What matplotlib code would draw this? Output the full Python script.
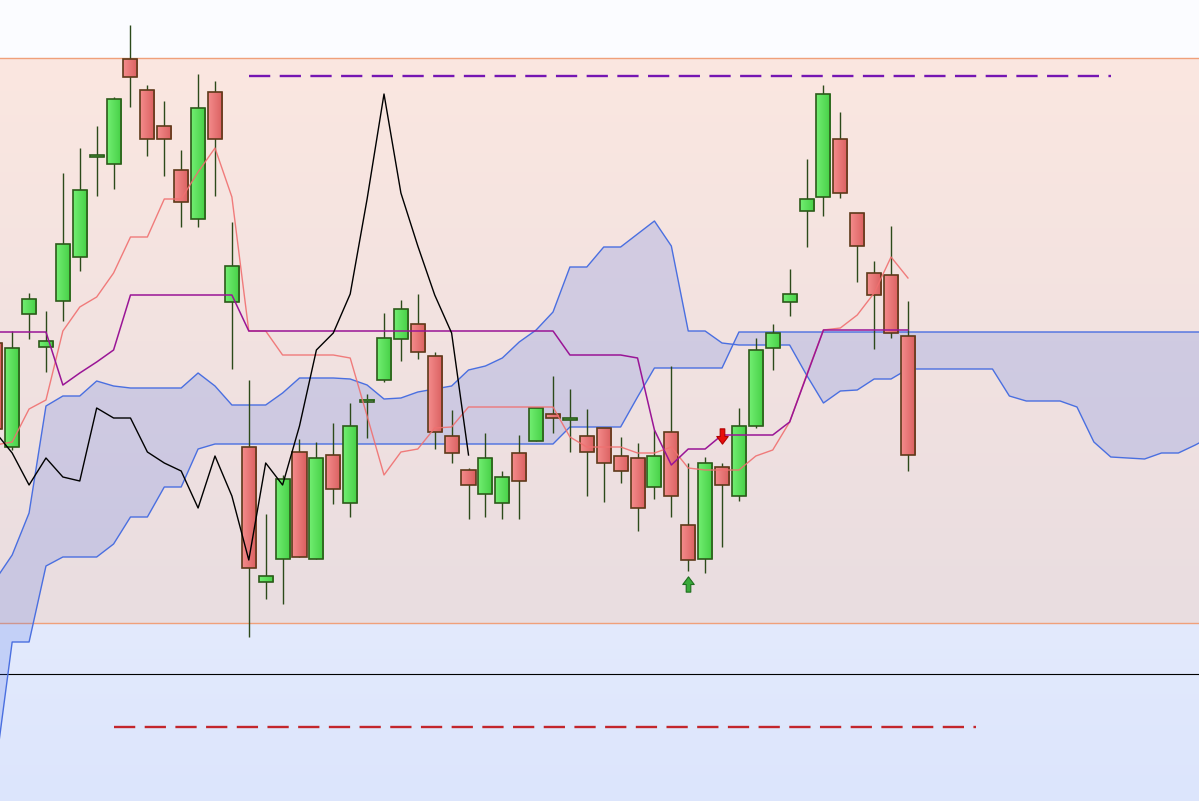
import numpy as np
import matplotlib.pyplot as plt
from matplotlib.patches import Rectangle
from matplotlib.path import Path
from matplotlib.colors import LinearSegmentedColormap

# candles (price units)
opens = [458, 354, 487, 454, 500, 544, 644, 637, 742, 711, 675, 631, 582, 709, 499,
         354, 219, 242, 349, 242, 346, 298, 400, 421, 462, 477, 445, 365, 331, 307,
         298, 348, 360, 387, 381, 365, 373, 345, 343, 314, 369, 276, 242, 334, 305,
         375, 453, 499, 590, 604, 662, 588, 528, 526, 465]
highs = [466, 470, 508, 490, 628, 653, 675, 704, 776, 716, 700, 651, 727, 720, 579,
         421, 287, 326, 362, 359, 378, 398, 407, 488, 501, 507, 449, 391, 333, 368,
         330, 366, 393, 425, 412, 392, 373, 364, 358, 371, 435, 338, 344, 338, 393,
         463, 477, 532, 642, 716, 689, 588, 540, 575, 500]
lows = [361, 351, 462, 429, 480, 530, 605, 612, 694, 645, 625, 574, 574, 605, 432,
        164, 202, 197, 244, 242, 297, 284, 363, 419, 440, 442, 352, 338, 282, 284,
        282, 282, 360, 368, 349, 305, 299, 318, 270, 302, 284, 230, 228, 254, 300,
        373, 431, 485, 554, 585, 603, 519, 452, 463, 330]
closes = [372, 453, 502, 460, 557, 611, 646, 702, 724, 662, 662, 599, 693, 662, 535,
          233, 225, 322, 244, 343, 312, 375, 401, 463, 492, 449, 369, 348, 316, 343,
          324, 320, 393, 383, 383, 349, 338, 330, 293, 345, 305, 241, 338, 316, 375,
          451, 468, 507, 602, 707, 608, 555, 506, 468, 346]

# ichimoku lines
tenkan = [356, 359, 392, 401, 470, 494, 504, 528, 564, 564, 602, 602, 629, 653, 604,
          470, 470, 446, 446, 446, 446, 443, 385, 326, 349, 352, 373, 374, 394, 394,
          394, 394, 394, 394, 364, 354, 354, 354, 348, 348, 354, 333, 331, 331, 331,
          345, 351, 379, 426, 471, 473, 486, 508, 544, 523]
kijun = [469, 469, 469, 469, 416, 428, 439, 451, 506, 506, 506, 506, 506, 506, 506,
         470, 470, 470, 470, 470, 470, 470, 470, 470, 470, 470, 470, 470, 470, 470,
         470, 470, 470, 470, 446, 446, 446, 446, 443, 371, 336, 352, 352, 366, 366,
         366, 366, 379, 425, 471, 471, 471, 471, 471, 471]
span_a = [221, 246, 288, 395, 405, 405, 420, 415, 413, 413, 413, 413, 428, 415, 396,
          396, 396, 408, 423, 423, 423, 422, 416, 402, 403, 409, 412, 415, 431, 435,
          443, 459, 471, 489, 534, 534, 554, 554, 567, 580, 555, 470, 470, 458, 456,
          456, 456, 456, 426, 398, 410, 411, 422, 422, 432, 432, 432, 432, 432, 432,
          405, 400, 400, 400, 394, 359, 344, 343, 342, 348, 348, 356, 365]
span_b = [31, 159, 159, 235, 244, 244, 244, 257, 284, 284, 314, 314, 352, 357, 357,
          357, 357, 357, 357, 357, 357, 357, 357, 357, 357, 357, 357, 357, 357, 357,
          357, 357, 357, 357, 374, 374, 374, 374, 404, 433, 433, 433, 433, 433, 469,
          469, 469, 469, 469, 469, 469, 469, 469, 469, 469, 469, 469, 469, 469, 469,
          469, 469, 469, 469, 469, 469, 469, 469, 469, 469, 469, 469, 469]
shift = 26

# levels
upper_band = 743
lower_band = 178
base_level = 127
resist_level = 725
resist_range = (15, 66)
support_level = 74
support_range = (7, 58)
buy_signal = (41, 217)
sell_signal = (43, 365)

fig = plt.figure(figsize=(11.99, 8.01), dpi=100)
fig.patch.set_facecolor('#fbfcff')
ax = fig.add_axes([0, 0, 1, 1])
ax.set_facecolor('#fbfcff')
x0, x1 = 0.28, 71.22

# background zones
grad_v = np.linspace(0, 1, 256).reshape(-1, 1)
pink = LinearSegmentedColormap.from_list('pink', ['#e9dde1', '#fbe7e0'])
blue = LinearSegmentedColormap.from_list('blue', ['#dce5fc', '#e3eafd'])
ax.imshow(grad_v, cmap=pink, origin='lower', aspect='auto',
          extent=(x0, x1, lower_band, upper_band), zorder=0)
ax.imshow(grad_v, cmap=blue, origin='lower', aspect='auto',
          extent=(x0, x1, 0, lower_band), zorder=0)
ax.axhline(upper_band, color='#f0a07a', lw=1.0, zorder=1)
ax.axhline(lower_band, color='#f0a07a', lw=1.0, zorder=1)
ax.axhline(base_level, color='black', lw=0.8, zorder=1)

# cloud
xc = np.arange(len(span_a))
ax.fill_between(xc, span_a, span_b, color='#4a6fe6', alpha=0.2, lw=0, zorder=1)
ax.plot(xc, span_a, color='#4a6fe0', lw=1.0, zorder=2)
ax.plot(xc, span_b, color='#4a6fe0', lw=1.0, zorder=2)

# candles
w = 0.415
grad_h = np.linspace(0, 1, 32).reshape(1, -1)
green = LinearSegmentedColormap.from_list('g', ['#72ee72', '#45cf45'])
red = LinearSegmentedColormap.from_list('r', ['#f48c8c', '#da5f5f'])
for i in range(len(opens)):
    o, h, l, c = opens[i], highs[i], lows[i], closes[i]
    up = c >= o
    lo, hi = min(o, c), max(o, c)
    ax.vlines(i, l, h, color='#2c4a1a', lw=1.0, zorder=3)
    if hi - lo < 1.5:
        lo, hi = lo - 0.5, hi + 0.5
    ax.imshow(grad_h, cmap=green if up else red, aspect='auto',
              extent=(i - w, i + w, lo, hi), zorder=4)
    ax.add_patch(Rectangle((i - w, lo), 2 * w, hi - lo, fill=False,
                           ec='#2d5a1a' if up else '#5e3a1a', lw=1.2, zorder=5))

# lines
xi = np.arange(len(tenkan))
ax.plot(xi, tenkan, color='#f07070', lw=1.0, alpha=0.9, zorder=6)
ax.plot(xi, kijun, color='#9a1596', lw=1.1, zorder=6)
ax.plot(xi[:len(closes) - shift], closes[shift:], color='black', lw=1.0, zorder=6)

# levels
ax.hlines(resist_level, *resist_range, colors='#7516b3', lw=1.7,
          linestyles=(0, (9.0, 4.0)), zorder=6)
ax.hlines(support_level, *support_range, colors='#c3262c', lw=1.7,
          linestyles=(0, (9.0, 4.0)), zorder=6)

# signals
up_arrow = Path([(-0.3, -1), (0.3, -1), (0.3, 0), (0.75, 0), (0, 1),
                 (-0.75, 0), (-0.3, 0), (-0.3, -1)], closed=True)
down_arrow = Path([(x, -y) for x, y in up_arrow.vertices], closed=True)
ax.plot(*buy_signal, marker=up_arrow, ms=11, mfc='#3aaa3a', mec='#1e6e1e',
        mew=0.8, zorder=7)
ax.plot(*sell_signal, marker=down_arrow, ms=11, mfc='#e80c0c', mec='#b00000',
        mew=0.8, zorder=7)

ax.set_xlim(x0, x1)
ax.set_ylim(0, 801)
ax.axis('off')
fig.savefig('out.png', dpi=100, facecolor=fig.get_facecolor())
